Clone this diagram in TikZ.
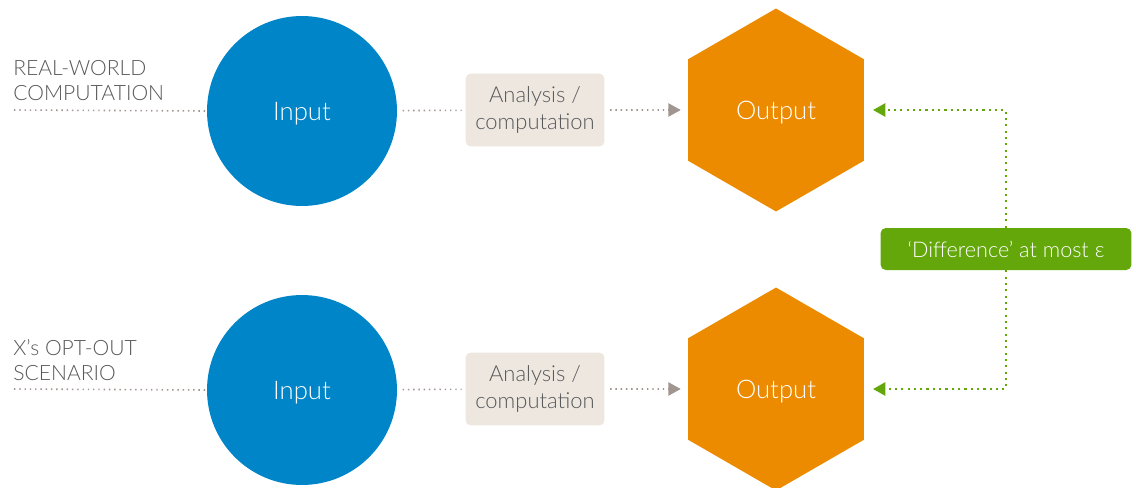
\documentclass[tikz,border=0pt]{standalone}
\usepackage{fontspec}
\setmainfont{Lato Light}
\usetikzlibrary{shapes.geometric,arrows.meta}
\definecolor{inputblue}{HTML}{0086C8}
\definecolor{outputorange}{HTML}{EC8B00}
\definecolor{analysisbeige}{HTML}{EDE7DF}
\definecolor{diffgreen}{HTML}{64A70B}
\definecolor{dotgrey}{HTML}{A0958F}
\definecolor{labelgrey}{HTML}{58585A}
\begin{document}
\begin{tikzpicture}[x=0.02cm,y=-0.02cm,
  inputnode/.style={circle,fill=inputblue,minimum size=3.8cm,inner sep=0pt,text=white,text depth=0pt,font=\fontsize{14.6}{16}\selectfont},
  outputnode/.style={regular polygon,regular polygon sides=6,shape border rotate=30,minimum size=4.06cm,inner sep=0pt,fill=outputorange,text=white,text depth=0pt,font=\fontsize{14.6}{16}\selectfont},
  analysisnode/.style={rounded corners=3pt,fill=analysisbeige,minimum width=2.78cm,minimum height=1.46cm,align=center,text=labelgrey,font=\fontsize{12.5}{15}\selectfont},
  diffnode/.style={rounded corners=3pt,fill=diffgreen,minimum width=5.02cm,minimum height=0.84cm,text=white,text depth=0pt,font=\fontsize{12.3}{14}\selectfont},
  scenariolabel/.style={anchor=west,align=left,inner sep=0pt,text=labelgrey,font=\fontsize{12}{14.2}\selectfont},
  greydots/.style={draw=dotgrey,line width=0.9pt,dash pattern=on 0.8pt off 2.2pt},
  greendots/.style={draw=diffgreen,line width=1.2pt,dash pattern=on 1.2pt off 2.4pt},
  greytip/.style={-{Triangle[length=7pt,width=7.5pt]},dotgrey},
  greentip/.style={-{Triangle[length=7pt,width=7.5pt]},diffgreen}]
\useasboundingbox (0,0) rectangle (1136,487);

% real-world row
\node[scenariolabel] (real) at (13,81) {REAL-WORLD\\COMPUTATION};
\coordinate (start1) at (14,110);
\node[inputnode] (in1) at (302,111) {Input};
\node[analysisnode] (an1) at (535,110) {Analysis /\\computation};
\node[outputnode] (out1) at (776,110) {Output};

% opt-out row
\node[scenariolabel] (optout) at (13,360) {X’s OPT-OUT\\SCENARIO};
\coordinate (start2) at (14,389);
\node[inputnode] (in2) at (302,390) {Input};
\node[analysisnode] (an2) at (535,389) {Analysis /\\computation};
\node[outputnode] (out2) at (776,389) {Output};

% difference
\node[diffnode] (diff) at (1006,249) {‘Difference’ at most ɛ};

\draw[greydots] (start1) -- (in1.west);
\draw[greydots,shorten <=3pt,shorten >=2pt] (in1) -- (an1);
\draw[greydots,greytip,shorten <=3pt,shorten >=4pt] (an1) -- (out1);
\draw[greydots] (start2) -- (in2.west);
\draw[greydots,shorten <=3pt,shorten >=2pt] (in2) -- (an2);
\draw[greydots,greytip,shorten <=3pt,shorten >=4pt] (an2) -- (out2);

\draw[greendots,greentip,shorten >=5pt] (diff) |- (out1.east);
\draw[greendots,greentip,shorten >=5pt] (diff) |- (out2.east);
\end{tikzpicture}
\end{document}
